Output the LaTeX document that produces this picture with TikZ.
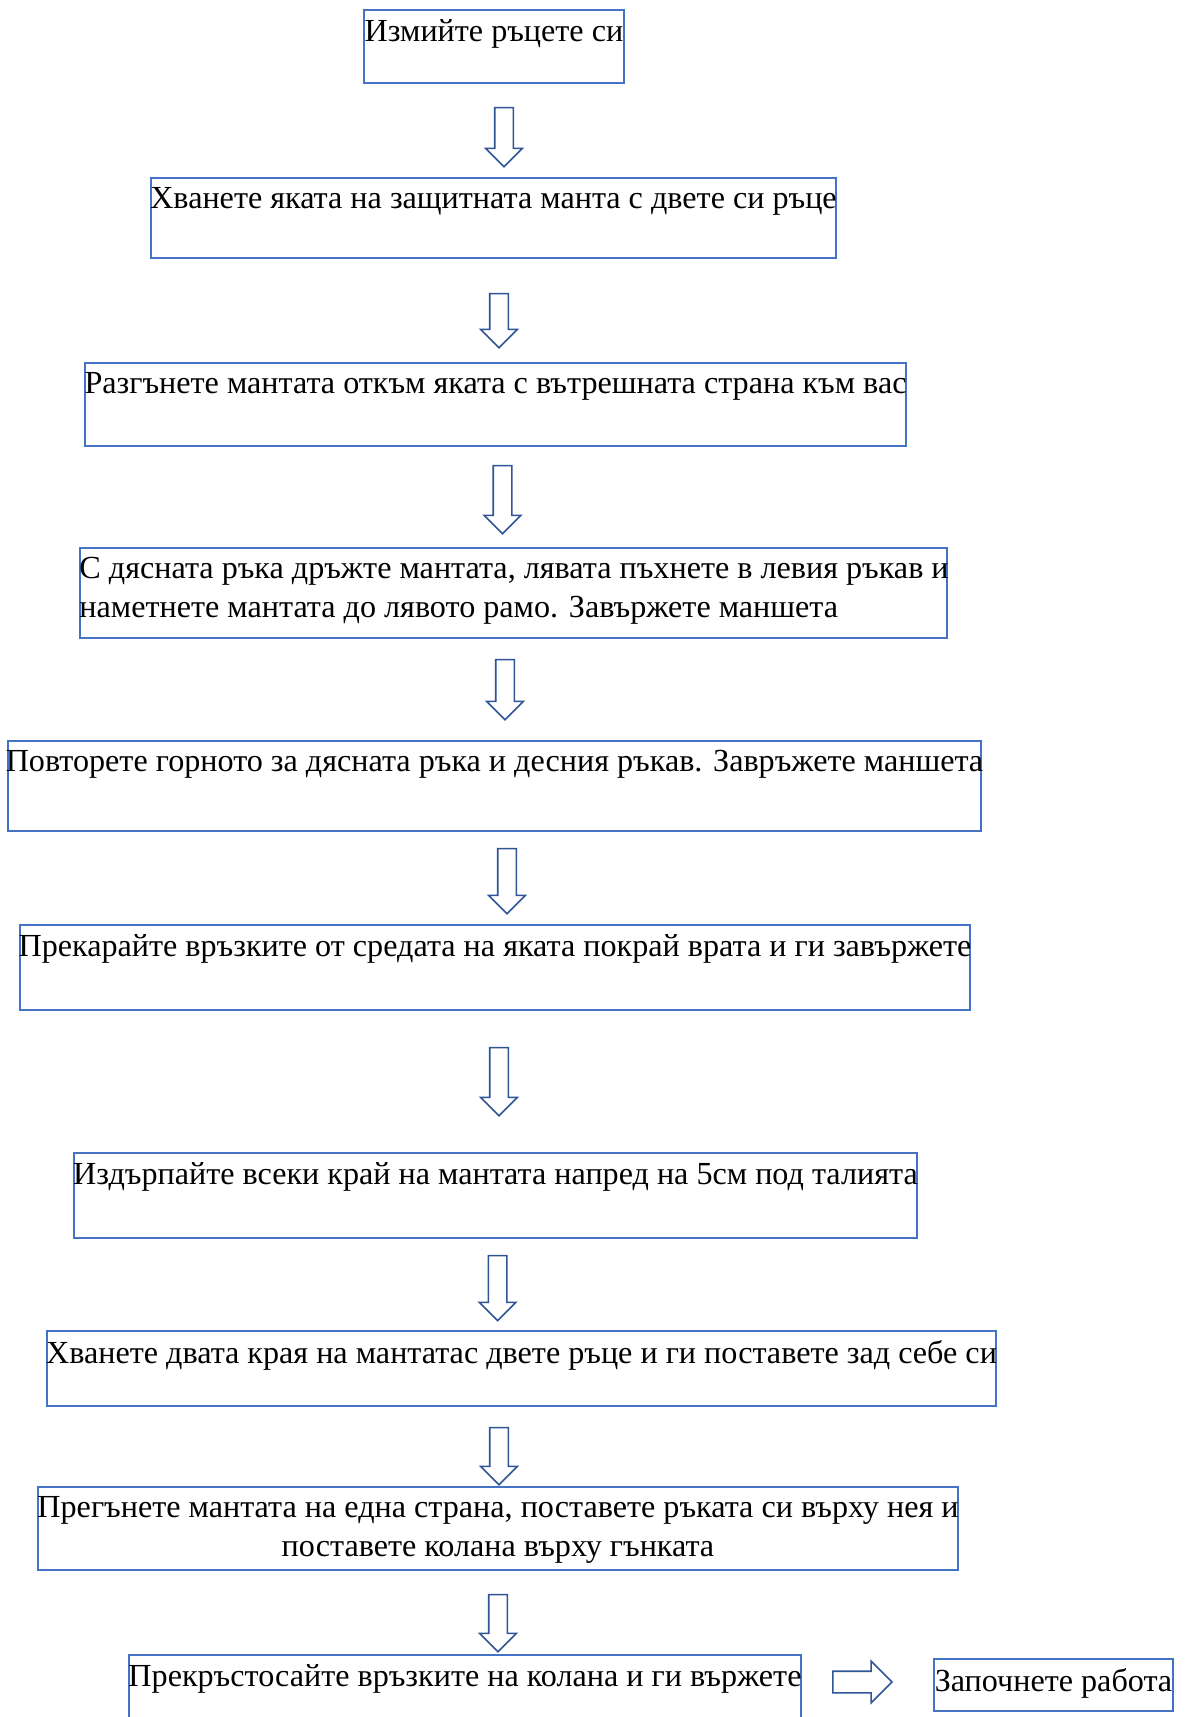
\documentclass[tikz,border=0pt]{standalone}
\usepackage{fontspec}
\setmainfont{Liberation Serif}
\definecolor{boxblue}{HTML}{4472C4}
\definecolor{arrowblue}{HTML}{2F5597}
\usetikzlibrary{positioning, fit, shapes.arrows}
\newlength\pxu
\setlength\pxu{0.02cm}
\tikzset{
	stepbox/.style={
			draw=boxblue,
			line width=1pt,
			inner sep=0pt
		},
	steptext/.style={
			inner sep=0pt,
			font=\fontsize{18.3}{22}\selectfont
		},
	blockarrow/.style={
			single arrow,
			draw=arrowblue,
			fill=white,
			line width=0.9pt,
			inner sep=0pt,
			inner ysep=8.5\pxu,
			single arrow head extend=9\pxu,
			single arrow head indent=0pt
		},
	downarrow/.style={
			blockarrow,
			rotate=-90
		}
}

\begin{document}
\begin{tikzpicture}[x=0.02cm, y=-0.02cm]
\useasboundingbox (0,0) rectangle (1189,1717);

\node[stepbox, fit={(364,10) (624,83)}] (s1) {};
\node[stepbox, fit={(151,178) (836,258)}] (s2) {};
\node[stepbox, fit={(85,363) (906,446)}] (s3) {};
\node[stepbox, fit={(80,548) (947,638)}] (s4) {};
\node[stepbox, fit={(8,741) (981,831)}] (s5) {};
\node[stepbox, fit={(20,925) (970,1010)}] (s6) {};
\node[stepbox, fit={(74,1153) (917,1238)}] (s7) {};
\node[stepbox, fit={(47,1331) (996,1406)}] (s8) {};
\node[stepbox, fit={(38,1487) (958,1570)}] (s9) {};
\node[stepbox, fit={(129,1655) (801,1725)}] (s10) {};
\node[stepbox, fit={(934,1659) (1173,1711)}] (s11) {};

\node[steptext, below=0.2cm of s1.north] (t1) {Измийте ръцете си};
\node[steptext, below=0.2cm of s2.north] (t2) {Хванете яката на защитната манта с двете си ръце};
\node[steptext, below=0.2cm of s3.north] (t3) {Разгънете мантата откъм яката с вътрешната страна към вас};
\node[steptext, align=left, below right=0.2cm and 0cm of s4.north west] (t4) {С дясната ръка дръжте мантата, лявата пъхнете в левия ръкав и\\наметнете мантата до лявото рамо. Завържете маншета};
\node[steptext, below=0.2cm of s5.north] (t5) {Повторете горното за дясната ръка и десния ръкав. Завръжете маншета};
\node[steptext, below=0.2cm of s6.north] (t6) {Прекарайте връзките от средата на яката покрай врата и ги завържете};
\node[steptext, below=0.2cm of s7.north] (t7) {Издърпайте всеки край на мантата напред на 5см под талията};
\node[steptext, below=0.2cm of s8.north] (t8) {Хванете двата края на мантатас двете ръце и ги поставете зад себе си};
\node[steptext, align=center, below=0.2cm of s9.north] (t9) {Прегънете мантата на една страна, поставете ръката си върху нея и\\поставете колана върху гънката};
\node[steptext, below=0.2cm of s10.north] (t10) {Прекръстосайте връзките на колана и ги вържете};
\node[steptext, below=0.2cm of s11.north] (t11) {Започнете работа};

\node[downarrow, minimum height=59\pxu] (a1) at (504,132.5) {};
\node[downarrow, minimum height=54\pxu] (a2) at (499,316) {};
\node[downarrow, minimum height=68\pxu] (a3) at (502.5,495) {};
\node[downarrow, minimum height=60\pxu] (a4) at (505,685) {};
\node[downarrow, minimum height=65\pxu] (a5) at (507,876.5) {};
\node[downarrow, minimum height=68\pxu] (a6) at (499,1077) {};
\node[downarrow, minimum height=65\pxu] (a7) at (497.6,1283.5) {};
\node[downarrow, minimum height=57\pxu] (a8) at (499,1451.5) {};
\node[downarrow, minimum height=57\pxu] (a9) at (498,1618.5) {};
\node[blockarrow, inner ysep=10\pxu, single arrow head extend=10\pxu, minimum height=59\pxu] (a10) at (857,1682) {};
\end{tikzpicture}
\end{document}
